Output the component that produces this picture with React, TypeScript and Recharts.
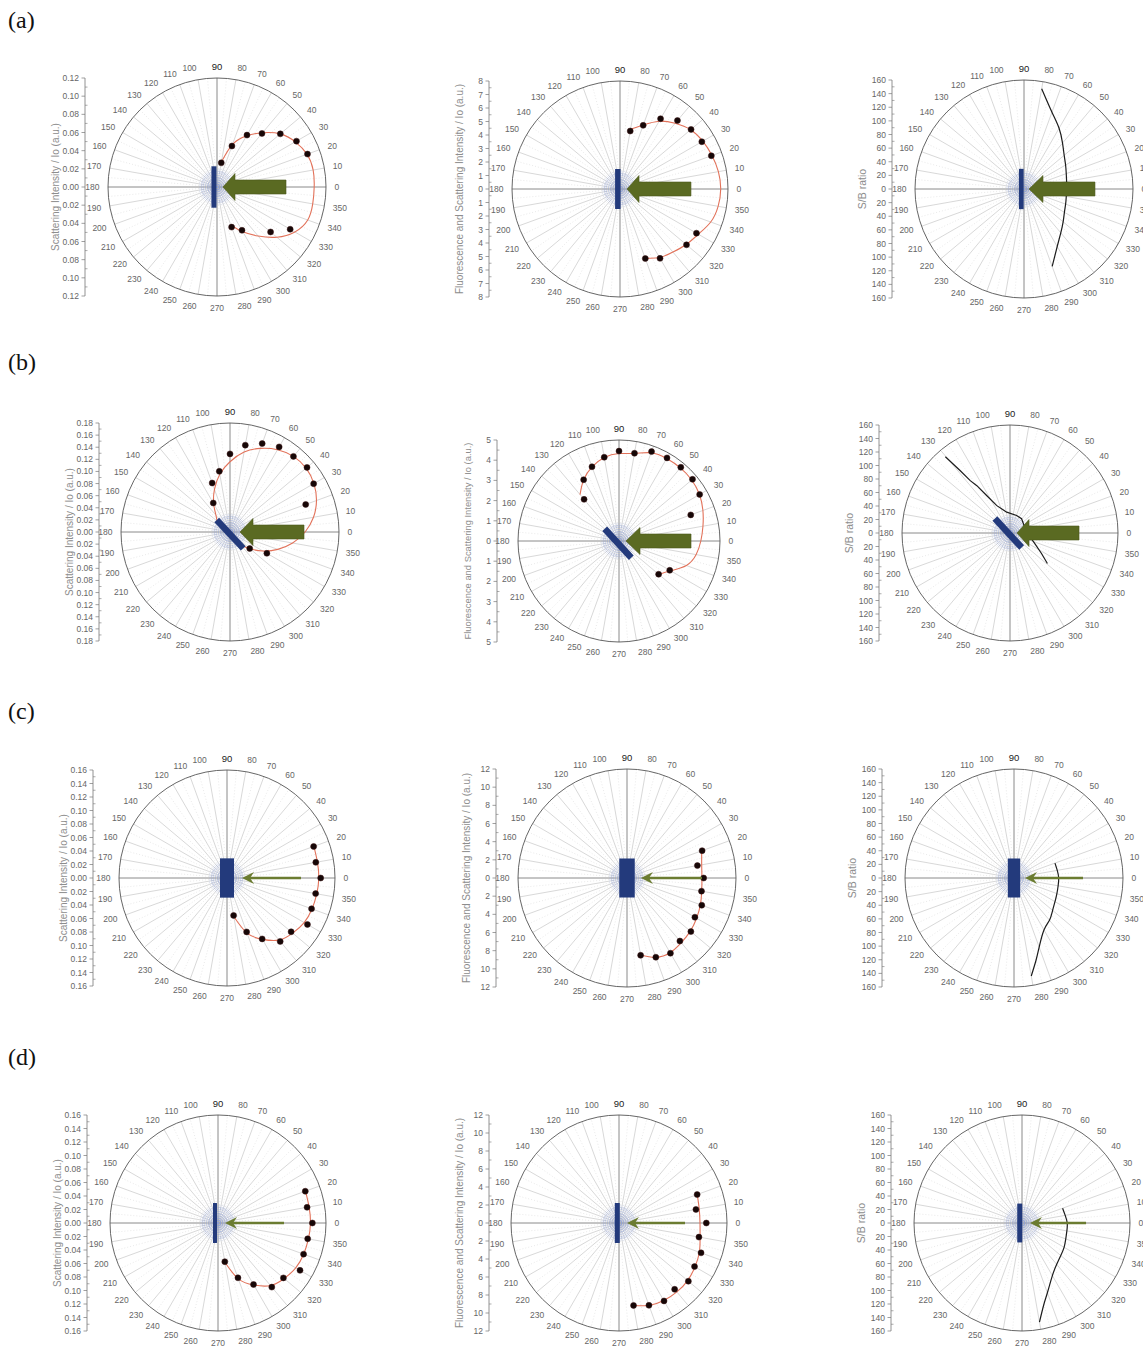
import {
  RadarChart,
  PolarGrid,
  PolarAngleAxis,
  PolarRadiusAxis,
  ScatterChart,
  Scatter,
  XAxis,
  YAxis,
} from "recharts";

// angle axis (degrees, counter-clockwise from the incident beam side)
const angleTicks = [0, 10, 20, 30, 40, 50, 60, 70, 80, 90, 100, 110, 120, 130, 140, 150, 160, 170, 180, 190, 200, 210, 220, 230, 240, 250, 260, 270, 280, 290, 300, 310, 320, 330, 340, 350];
const minorAngles = [5, 15, 25, 35, 45, 55, 65, 75, 85, 95, 105, 115, 125, 135, 145, 155, 165, 175, 185, 195, 205, 215, 225, 235, 245, 255, 265, 275, 285, 295, 305, 315, 325, 335, 345, 355];
const crossAngles = [0, 90, 180, 270];

// radial value axes (tick labels, mirrored about zero)
const scatTicks12 = [0, 0.02, 0.04, 0.06, 0.08, 0.1, 0.12];
const scatTicks16 = [0, 0.02, 0.04, 0.06, 0.08, 0.1, 0.12, 0.14, 0.16];
const scatTicks18 = [0, 0.02, 0.04, 0.06, 0.08, 0.1, 0.12, 0.14, 0.16, 0.18];
const fluoTicks8 = [0, 1, 2, 3, 4, 5, 6, 7, 8];
const fluoTicks5 = [0, 1, 2, 3, 4, 5];
const fluoTicks12 = [0, 2, 4, 6, 8, 10, 12];
const ratioTicks = [0, 20, 40, 60, 80, 100, 120, 140, 160];

const scatTitle = "Scattering Intensity / Io (a.u.)";
const fluoTitle = "Fluorescence and Scattering Intensity / Io (a.u.)";
const ratioTitle = "S/B ratio";

// (a)
const a1DotAngles = [80, 70, 60, 50, 40, 30, 20, 290, 300, 320, 330];
const a1DotValues = [0.027, 0.048, 0.066, 0.077, 0.091, 0.101, 0.106, 0.047, 0.055, 0.077, 0.093];
const a1FitAngles = [80, 70, 60, 50, 40, 30, 20, 10, 0, 350, 340, 330, 320, 310, 300, 290];
const a1FitValues = [0.028, 0.05, 0.065, 0.078, 0.091, 0.0995, 0.1055, 0.1075, 0.107, 0.107, 0.1063, 0.099, 0.086, 0.0705, 0.057, 0.0445];

const a2DotAngles = [80, 70, 60, 50, 40, 30, 20, 290, 300, 320, 330];
const a2DotValues = [4.36, 5.02, 6.01, 6.62, 6.87, 7.0, 7.2, 5.48, 5.93, 6.43, 6.54];
const a2FitAngles = [80, 70, 60, 50, 40, 30, 20, 10, 0, 350, 340, 330, 320, 310, 300, 290];
const a2FitValues = [4.5, 5.05, 5.8, 6.35, 6.83, 7.08, 7.25, 7.4, 7.46, 7.38, 7.15, 6.7, 6.4, 6.1, 5.86, 5.45];

const a3Angles = [80, 70, 60, 50, 40, 30, 20, 10, 0, 350, 340, 330, 320, 310, 300, 290];
const a3Values = [149.5, 120, 103, 88, 77, 70.5, 66, 63.5, 62.5, 63, 65, 68.5, 75, 84, 97.5, 121];

// (b)
const b1DotAngles = [120, 110, 100, 90, 80, 70, 60, 50, 40, 30, 20, 320, 330];
const b1DotValues = [0.0553, 0.0861, 0.1017, 0.129, 0.1456, 0.1554, 0.1623, 0.163, 0.166, 0.1595, 0.133, 0.0425, 0.0703];
const b1FitAngles = [140, 130, 120, 110, 100, 90, 80, 70, 60, 50, 40, 30, 20, 10, 0, 350, 340, 330, 320, 310, 300];
const b1FitValues = [0.028, 0.036, 0.054, 0.075, 0.097, 0.116, 0.134, 0.147, 0.157, 0.163, 0.164, 0.16, 0.152, 0.14, 0.124, 0.105, 0.084, 0.063, 0.043, 0.028, 0.019];

const b2DotAngles = [130, 120, 110, 100, 90, 80, 70, 60, 50, 40, 30, 20, 320, 330];
const b2DotValues = [2.69, 3.5, 3.91, 4.21, 4.45, 4.41, 4.71, 4.75, 4.76, 4.75, 4.61, 3.78, 2.56, 2.9];
const b2FitAngles = [130, 120, 110, 100, 90, 80, 70, 60, 50, 40, 30, 20, 10, 0, 350, 340, 330, 320];
const b2FitValues = [3.0, 3.5, 3.9, 4.2, 4.33, 4.4, 4.65, 4.72, 4.73, 4.7, 4.6, 4.42, 4.22, 4.05, 3.88, 3.55, 2.95, 2.58];

const b3Angles = [130.3, 128.6, 127.2, 125, 121.8, 115.7, 99, 69.3, 50.9, 3.4, 336.9, 326.9, 320.8];
const b3Values = [148, 118, 97.4, 85.6, 65, 45, 31.3, 27.8, 27.2, 24.5, 40, 55.7, 71.5];

// (c)
const c1DotAngles = [20, 10, 0, 350, 340, 330, 320, 310, 300, 290, 280];
const c1DotValues = [0.1366, 0.1336, 0.1388, 0.1333, 0.1333, 0.1376, 0.124, 0.1226, 0.1042, 0.085, 0.0563];
const c1FitAngles = [20, 10, 0, 350, 340, 330, 320, 310, 300, 290, 280];
const c1FitValues = [0.137, 0.136, 0.136, 0.135, 0.134, 0.132, 0.127, 0.12, 0.105, 0.087, 0.058];

const c2DotAngles = [20, 10, 0, 350, 340, 330, 320, 310, 300, 290, 280];
const c2DotValues = [8.8, 7.87, 8.44, 8.33, 8.76, 8.63, 9.18, 9.06, 9.56, 9.28, 8.64];
const c2FitAngles = [20, 10, 0, 350, 340, 330, 320, 310, 300, 290, 280];
const c2FitValues = [8.75, 8.35, 8.25, 8.35, 8.6, 8.85, 9.1, 9.3, 9.5, 9.28, 8.6];

const c3Angles = [20, 10, 0, 350, 340, 330, 320, 310, 300, 290, 285, 280];
const c3Values = [64, 64.5, 65.6, 65.8, 67, 69.5, 74, 81, 88, 108, 125, 146];

// (d)
const d1DotAngles = [20, 10, 0, 350, 340, 330, 320, 310, 300, 290, 280];
const d1DotValues = [0.1376, 0.134, 0.1398, 0.1349, 0.1349, 0.1403, 0.1265, 0.124, 0.1052, 0.0864, 0.0582];
const d1FitAngles = [20, 10, 0, 350, 340, 330, 320, 310, 300, 290, 280];
const d1FitValues = [0.138, 0.137, 0.137, 0.136, 0.135, 0.133, 0.128, 0.121, 0.106, 0.088, 0.059];

const d2DotAngles = [20, 10, 0, 350, 340, 330, 320, 310, 300, 290, 280];
const d2DotValues = [9.24, 8.68, 9.7, 9.02, 9.7, 9.69, 10.06, 9.62, 10.0, 9.73, 9.3];
const d2FitAngles = [20, 10, 0, 350, 340, 330, 320, 310, 300, 290, 280];
const d2FitValues = [9.25, 9.05, 9.0, 9.15, 9.5, 9.75, 9.95, 10.0, 9.95, 9.75, 9.3];

const d3Angles = [20, 10, 0, 350, 340, 330, 320, 310, 300, 290, 285, 280];
const d3Values = [64, 65, 67, 67.5, 69, 72, 75, 80, 90, 110, 125, 149];

type Series = { angles: number[]; values: number[] };
type PanelSpec = {
  cx: number;
  cy: number;
  radius: number;
  axisX: number;
  ticks: number[];
  digits: number;
  title: string;
  titleSize: number;
  dots?: Series;
  fit?: Series;
  ratio?: Series;
  ratioCurve?: "natural" | "linear";
  sample: { angle: number; half: number; width: number; sx: number; sy: number };
  arrow: { tip: number; base?: number; tail: number; thin?: boolean };
};

const panels: PanelSpec[] = [
  {
    cx: 217, cy: 187, radius: 109, axisX: 85, ticks: scatTicks12, digits: 2, title: scatTitle, titleSize: 10,
    dots: { angles: a1DotAngles, values: a1DotValues }, fit: { angles: a1FitAngles, values: a1FitValues },
    sample: { angle: 90, half: 0.19, width: 5, sx: -0.028, sy: 0 },
    arrow: { tip: 0.055, base: 0.165, tail: 0.633 },
  },
  {
    cx: 620, cy: 189, radius: 108, axisX: 489, ticks: fluoTicks8, digits: 0, title: fluoTitle, titleSize: 10,
    dots: { angles: a2DotAngles, values: a2DotValues }, fit: { angles: a2FitAngles, values: a2FitValues },
    sample: { angle: 90, half: 0.185, width: 5.5, sx: -0.02, sy: 0 },
    arrow: { tip: 0.065, base: 0.176, tail: 0.657 },
  },
  {
    cx: 1024, cy: 189, radius: 109, axisX: 892, ticks: ratioTicks, digits: 0, title: ratioTitle, titleSize: 10.5,
    ratio: { angles: a3Angles, values: a3Values }, ratioCurve: "natural",
    sample: { angle: 90, half: 0.185, width: 4.7, sx: -0.025, sy: 0 },
    arrow: { tip: 0.046, base: 0.174, tail: 0.651 },
  },
  {
    cx: 230, cy: 532, radius: 109, axisX: 99, ticks: scatTicks18, digits: 2, title: scatTitle, titleSize: 10,
    dots: { angles: b1DotAngles, values: b1DotValues }, fit: { angles: b1FitAngles, values: b1FitValues },
    sample: { angle: 133, half: 0.178, width: 6.5, sx: 0, sy: -0.02 },
    arrow: { tip: 0.092, base: 0.211, tail: 0.679 },
  },
  {
    cx: 619, cy: 541, radius: 101, axisX: 497, ticks: fluoTicks5, digits: 0, title: fluoTitle, titleSize: 9.4,
    dots: { angles: b2DotAngles, values: b2DotValues }, fit: { angles: b2FitAngles, values: b2FitValues },
    sample: { angle: 132.5, half: 0.195, width: 6.5, sx: -0.01, sy: -0.022 },
    arrow: { tip: 0.069, base: 0.208, tail: 0.713 },
  },
  {
    cx: 1010, cy: 533, radius: 108, axisX: 879, ticks: ratioTicks, digits: 0, title: ratioTitle, titleSize: 10.5,
    ratio: { angles: b3Angles, values: b3Values }, ratioCurve: "linear",
    sample: { angle: 132.6, half: 0.183, width: 6.5, sx: -0.016, sy: 0 },
    arrow: { tip: 0.065, base: 0.176, tail: 0.639 },
  },
  {
    cx: 227, cy: 878, radius: 108, axisX: 93, ticks: scatTicks16, digits: 2, title: scatTitle, titleSize: 10,
    dots: { angles: c1DotAngles, values: c1DotValues }, fit: { angles: c1FitAngles, values: c1FitValues },
    sample: { angle: 90, half: 0.182, width: 14, sx: 0, sy: 0 },
    arrow: { tip: 0.139, tail: 0.685, thin: true },
  },
  {
    cx: 627, cy: 878, radius: 109, axisX: 496, ticks: fluoTicks12, digits: 0, title: fluoTitle, titleSize: 10,
    dots: { angles: c2DotAngles, values: c2DotValues }, fit: { angles: c2FitAngles, values: c2FitValues },
    sample: { angle: 90, half: 0.179, width: 15.5, sx: 0, sy: 0 },
    arrow: { tip: 0.128, tail: 0.688, thin: true },
  },
  {
    cx: 1014, cy: 878, radius: 109, axisX: 882, ticks: ratioTicks, digits: 0, title: ratioTitle, titleSize: 10.5,
    ratio: { angles: c3Angles, values: c3Values }, ratioCurve: "natural",
    sample: { angle: 90, half: 0.179, width: 12.3, sx: 0, sy: 0 },
    arrow: { tip: 0.101, tail: 0.633, thin: true },
  },
  {
    cx: 218, cy: 1223, radius: 108, axisX: 87, ticks: scatTicks16, digits: 2, title: scatTitle, titleSize: 10,
    dots: { angles: d1DotAngles, values: d1DotValues }, fit: { angles: d1FitAngles, values: d1FitValues },
    sample: { angle: 90, half: 0.185, width: 4, sx: -0.028, sy: 0 },
    arrow: { tip: 0.065, tail: 0.611, thin: true },
  },
  {
    cx: 619, cy: 1223, radius: 108, axisX: 489, ticks: fluoTicks12, digits: 0, title: fluoTitle, titleSize: 10,
    dots: { angles: d2DotAngles, values: d2DotValues }, fit: { angles: d2FitAngles, values: d2FitValues },
    sample: { angle: 90, half: 0.185, width: 5, sx: -0.016, sy: 0 },
    arrow: { tip: 0.074, tail: 0.611, thin: true },
  },
  {
    cx: 1022, cy: 1223, radius: 108, axisX: 891, ticks: ratioTicks, digits: 0, title: ratioTitle, titleSize: 10.5,
    ratio: { angles: d3Angles, values: d3Values }, ratioCurve: "natural",
    sample: { angle: 90, half: 0.18, width: 5, sx: -0.021, sy: 0 },
    arrow: { tip: 0.074, tail: 0.593, thin: true },
  },
];

const panelLabels = [
  { text: "(a)", top: 8 },
  { text: "(b)", top: 350 },
  { text: "(c)", top: 699 },
  { text: "(d)", top: 1045 },
];

const PAD = 30;
const AXIS_W = 62;
const FONT = "'Liberation Sans', Arial, sans-serif";
const hazeAngles = [...angleTicks, ...minorAngles];

const toXY = (s: Series) =>
  s.angles.map((a, i) => {
    const t = (a * Math.PI) / 180;
    return { x: s.values[i] * Math.cos(t), y: s.values[i] * Math.sin(t) };
  });

function LinearTick(props: any) {
  const { x, y, payload, step, digits } = props;
  const v = Number(payload?.value ?? 0);
  const q = v / step;
  const major = Math.abs(q - Math.round(q)) < 1e-6;
  const ax = x + 6;
  if (!major) {
    return <line x1={ax} x2={ax + 2.5} y1={y} y2={y} stroke="#777" strokeWidth={0.6} />;
  }
  return (
    <g>
      <line x1={ax - 3.5} x2={ax} y1={y} y2={y} stroke="#777" strokeWidth={0.7} />
      <text x={ax - 6} y={y} textAnchor="end" dominantBaseline="central" fontSize={8.5} fill="#666" fontFamily={FONT}>
        {Math.abs(v).toFixed(digits)}
      </text>
    </g>
  );
}

function CenterHaze(props: any) {
  const { cx, cy } = props;
  if (cx == null || cy == null) return <g />;
  return (
    <g stroke="#8fa1d6" strokeWidth={0.5} strokeDasharray="1 1.2" fill="none">
      {hazeAngles.map((a) => {
        const t = (a * Math.PI) / 180;
        return <line key={a} x1={cx} y1={cy} x2={cx + 18 * Math.cos(t)} y2={cy - 18 * Math.sin(t)} />;
      })}
      <circle cx={cx} cy={cy} r={9} />
      <circle cx={cx} cy={cy} r={15} />
    </g>
  );
}

const noShape = () => <g />;

const dotShape = (p: any) => (
  <circle cx={p.cx} cy={p.cy} r={3} fill="#160707" stroke="#3b1212" strokeWidth={0.5} />
);

const sampleLine = (w: number) => (lp: any) => {
  const pts = lp.points;
  if (!pts || pts.length < 2) return <g />;
  return <line x1={pts[0].x} y1={pts[0].y} x2={pts[1].x} y2={pts[1].y} stroke="#233a7c" strokeWidth={w} />;
};

const thickArrow = (lp: any) => {
  const pts = lp.points;
  if (!pts || pts.length < 3) return <g />;
  const [tip, base, tail] = pts;
  const len = Math.hypot(tail.x - tip.x, tail.y - tip.y) || 1;
  const ux = (tail.x - tip.x) / len;
  const uy = (tail.y - tip.y) / len;
  const nx = -uy;
  const ny = ux;
  const hw = 13.5;
  const bw = 7;
  const poly = [
    [tip.x, tip.y],
    [base.x + nx * hw, base.y + ny * hw],
    [base.x + nx * bw, base.y + ny * bw],
    [tail.x + nx * bw, tail.y + ny * bw],
    [tail.x - nx * bw, tail.y - ny * bw],
    [base.x - nx * bw, base.y - ny * bw],
    [base.x - nx * hw, base.y - ny * hw],
  ];
  return (
    <polygon
      points={poly.map((q) => q.join(",")).join(" ")}
      fill="#5a6a22"
      stroke="#4a581b"
      strokeWidth={0.6}
    />
  );
};

const thinArrow = (lp: any) => {
  const pts = lp.points;
  if (!pts || pts.length < 2) return <g />;
  const [tip, tail] = pts;
  const len = Math.hypot(tail.x - tip.x, tail.y - tip.y) || 1;
  const ux = (tail.x - tip.x) / len;
  const uy = (tail.y - tip.y) / len;
  const nx = -uy;
  const ny = ux;
  const head = [
    [tip.x, tip.y],
    [tip.x + ux * 12 + nx * 6, tip.y + uy * 12 + ny * 6],
    [tip.x + ux * 8, tip.y + uy * 8],
    [tip.x + ux * 12 - nx * 6, tip.y + uy * 12 - ny * 6],
  ];
  return (
    <g>
      <line x1={tip.x + ux * 8} y1={tip.y + uy * 8} x2={tail.x} y2={tail.y} stroke="#6b7c31" strokeWidth={2.6} />
      <polygon points={head.map((q) => q.join(",")).join(" ")} fill="#6b7c31" />
    </g>
  );
};

function PolarPanel({ spec }: { spec: PanelSpec }) {
  const { cx, cy, radius, axisX, ticks } = spec;
  const max = ticks[ticks.length - 1];
  const step = ticks[1] - ticks[0];
  const minor = step / 2;
  const n = Math.round(max / minor);
  const yTicks: number[] = [];
  for (let k = -n; k <= n; k++) yTicks.push(k * minor);
  const ringTicks = ticks.slice(1, -1);

  const left = axisX - AXIS_W;
  const top = cy - radius - PAD;
  const width = cx + radius + 45 - left;
  const height = 2 * radius + 2 * PAD;
  const lcx = cx - left;
  const lcy = cy - top;
  const xMin = -((cx - axisX) / radius) * max;
  const angleRows = angleTicks.map((a) => ({ angle: a }));

  const s = spec.sample;
  const st = (s.angle * Math.PI) / 180;
  const sampleData = [
    { x: (s.sx - s.half * Math.cos(st)) * max, y: (s.sy - s.half * Math.sin(st)) * max },
    { x: (s.sx + s.half * Math.cos(st)) * max, y: (s.sy + s.half * Math.sin(st)) * max },
  ];
  const ar = spec.arrow;
  const arrowData = ar.thin
    ? [{ x: ar.tip * max, y: 0 }, { x: ar.tail * max, y: 0 }]
    : [{ x: ar.tip * max, y: 0 }, { x: (ar.base ?? ar.tip) * max, y: 0 }, { x: ar.tail * max, y: 0 }];

  const angleTick = (p: any) => {
    const dx = p.x - lcx;
    const dy = p.y - lcy;
    const len = Math.hypot(dx, dy) || 1;
    const v = p.payload?.value;
    return (
      <text
        x={p.x + (dx / len) * 0.5}
        y={p.y + (dy / len) * 3.5}
        textAnchor={p.textAnchor}
        dominantBaseline="central"
        fontSize={v === 90 ? 9.5 : 8.5}
        fontFamily={FONT}
        fill={v === 90 ? "#222" : "#666"}
      >
        {v}
      </text>
    );
  };

  const titleLabel = (lp: any) => {
    const vb = lp?.viewBox ?? {};
    const tx = (vb.x ?? 0) + (vb.width ?? AXIS_W) - 30;
    const ty = (vb.y ?? PAD) + (vb.height ?? 2 * radius) / 2;
    return (
      <text
        x={tx}
        y={ty}
        transform={`rotate(-90 ${tx} ${ty})`}
        textAnchor="middle"
        dominantBaseline="central"
        fontSize={spec.titleSize}
        fontFamily={FONT}
        fill="#8d8d8d"
      >
        {spec.title}
      </text>
    );
  };

  return (
    <div style={{ position: "absolute", left, top, width, height }}>
      <div style={{ position: "absolute", left: 0, top: 0 }}>
        <RadarChart
          width={width}
          height={height}
          cx={lcx}
          cy={lcy}
          outerRadius={radius}
          startAngle={10}
          endAngle={370}
          data={angleRows}
          margin={{ top: 0, right: 0, bottom: 0, left: 0 }}
        >
          <PolarRadiusAxis type="number" domain={[0, max]} ticks={ringTicks} tick={false} axisLine={false} />
          <PolarGrid gridType="circle" polarRadius={[]} polarAngles={minorAngles} stroke="#dadada" strokeDasharray="1 2" strokeWidth={0.6} />
          <PolarGrid gridType="circle" radialLines={false} stroke="#d2d2d2" strokeDasharray="1 2" strokeWidth={0.6} />
          <PolarGrid gridType="circle" polarRadius={[]} stroke="#bdbdbd" strokeWidth={0.6} />
          <PolarGrid gridType="circle" polarRadius={[]} polarAngles={crossAngles} stroke="#8c8c8c" strokeWidth={0.8} />
          <PolarAngleAxis
            dataKey="angle"
            axisLineType="circle"
            axisLine={{ stroke: "#555", strokeWidth: 0.9 }}
            tickLine={false}
            tickSize={8}
            tick={angleTick}
          />
        </RadarChart>
      </div>
      <div style={{ position: "absolute", left: 0, top: 0 }}>
        <ScatterChart
          width={width}
          height={height}
          margin={{ top: PAD, right: width - (lcx + radius), bottom: PAD, left: 0 }}
        >
          <XAxis type="number" dataKey="x" domain={[xMin, max]} allowDataOverflow hide />
          <YAxis
            type="number"
            dataKey="y"
            domain={[-max, max]}
            allowDataOverflow
            width={AXIS_W}
            ticks={yTicks}
            interval={0}
            tickSize={4}
            tickMargin={2}
            tickLine={false}
            axisLine={{ stroke: "#777", strokeWidth: 0.8 }}
            tick={<LinearTick step={step} digits={spec.digits} />}
            label={titleLabel}
          />
          <Scatter data={[{ x: 0, y: 0 }]} shape={CenterHaze} isAnimationActive={false} />
          {spec.fit && (
            <Scatter
              data={toXY(spec.fit)}
              line={{ stroke: "#e2725a", strokeWidth: 1.1 }}
              lineJointType="natural"
              shape={noShape}
              isAnimationActive={false}
            />
          )}
          {spec.dots && <Scatter data={toXY(spec.dots)} shape={dotShape} isAnimationActive={false} />}
          {spec.ratio && (
            <Scatter
              data={toXY(spec.ratio)}
              line={{ stroke: "#1c1c1c", strokeWidth: 1.2 }}
              lineJointType={spec.ratioCurve ?? "natural"}
              shape={noShape}
              isAnimationActive={false}
            />
          )}
          <Scatter data={sampleData} line={sampleLine(s.width)} shape={noShape} isAnimationActive={false} />
          <Scatter data={arrowData} line={ar.thin ? thinArrow : thickArrow} shape={noShape} isAnimationActive={false} />
        </ScatterChart>
      </div>
    </div>
  );
}

export default function App() {
  return (
    <div
      style={{
        position: "absolute",
        left: 0,
        top: 0,
        width: 1143,
        height: 1346,
        overflow: "hidden",
        background: "#fff",
        fontFamily: FONT,
      }}
    >
      {panelLabels.map((l) => (
        <div
          key={l.text}
          style={{
            position: "absolute",
            left: 8,
            top: l.top,
            fontFamily: "'Liberation Serif', 'Times New Roman', serif",
            fontSize: 24,
            lineHeight: 1,
            color: "#111",
          }}
        >
          {l.text}
        </div>
      ))}
      {panels.map((p, i) => (
        <PolarPanel key={i} spec={p} />
      ))}
    </div>
  );
}
